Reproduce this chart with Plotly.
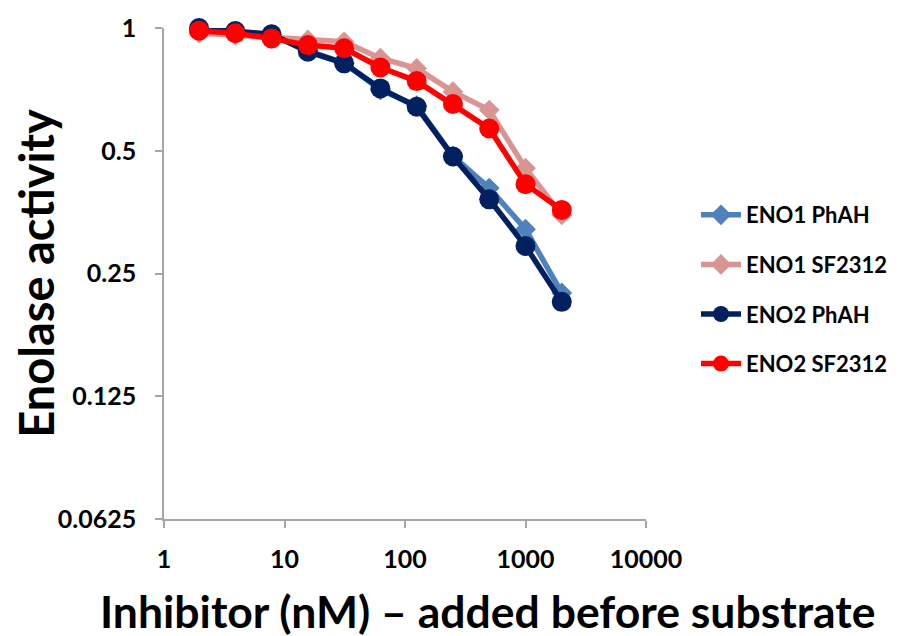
import plotly.graph_objects as go

conc = [1.953125, 3.90625, 7.8125, 15.625, 31.25, 62.5, 125, 250, 500, 1000, 2000]
eno1_phah = [0.99, 0.975, 0.962, 0.88, 0.82, 0.705, 0.645, 0.485, 0.405, 0.321, 0.224]
eno1_sf2312 = [0.972, 0.961, 0.943, 0.935, 0.925, 0.843, 0.796, 0.698, 0.629, 0.453, 0.348]
eno2_phah = [1.0, 0.983, 0.965, 0.875, 0.819, 0.711, 0.641, 0.484, 0.38, 0.292, 0.213]
eno2_sf2312 = [0.985, 0.971, 0.943, 0.908, 0.892, 0.80, 0.741, 0.651, 0.567, 0.414, 0.358]

series = [
    ("ENO1 PhAH", eno1_phah, "#4F81BD", "diamond", 16),
    ("ENO1 SF2312", eno1_sf2312, "#D99594", "diamond", 16),
    ("ENO2 PhAH", eno2_phah, "#002060", "circle", 20),
    ("ENO2 SF2312", eno2_sf2312, "#FF0000", "circle", 20),
]

y_ticks = [1, 0.5, 0.25, 0.125, 0.0625]
y_tick_labels = ["1", "0.5", "0.25", "0.125", "0.0625"]
x_ticks = [1, 10, 100, 1000, 10000]
x_tick_labels = ["1", "10", "100", "1000", "10000"]

FONT = "Lato"
L, T, PW, PH = 156, 20, 482, 491

fig = go.Figure()
for i, (name, vals, color, sym, size) in enumerate(series):
    fig.add_trace(go.Scatter(
        x=conc, y=vals, name=name, mode="lines+markers",
        line=dict(color=color, width=5.5),
        marker=dict(color=color, symbol=sym, size=size),
        legendgroup=f"g{i}",
        cliponaxis=False,
    ))

fig.update_layout(
    width=900, height=636,
    margin=dict(l=L, r=900 - L - PW, t=T, b=636 - T - PH, autoexpand=False),
    paper_bgcolor="white", plot_bgcolor="white",
    font=dict(family=FONT, color="black"),
    showlegend=True,
    legend=dict(
        x=(688 - L) / PW, xref="paper", xanchor="left",
        y=1 - (186 - T) / PH, yanchor="top",
        traceorder="grouped", tracegroupgap=18,
        font=dict(family=FONT, size=22, color="black", weight="bold"),
        bgcolor="rgba(0,0,0,0)", itemwidth=40,
    ),
    annotations=[dict(
        text="Inhibitor (nM) – added before substrate",
        xref="paper", yref="paper",
        x=(480 - L) / PW, y=-(602 - T - PH) / PH,
        xanchor="center", yanchor="middle", showarrow=False,
        font=dict(family=FONT, size=44.5, color="black", weight="bold"),
    )],
)

fig.update_xaxes(
    type="log", range=[0, 4], automargin=False,
    tickvals=x_ticks, ticktext=x_tick_labels,
    ticks="outside", ticklen=7, tickcolor="#A6A6A6", tickwidth=1.5,
    showline=True, linecolor="#A6A6A6", linewidth=1.5,
    showgrid=False, zeroline=False, ticklabelstandoff=10,
    tickfont=dict(family=FONT, size=25, color="black", weight="bold"),
)
fig.update_yaxes(
    type="log", range=[-1.2041199827, 0], automargin=False,
    tickvals=y_ticks, ticktext=y_tick_labels,
    ticks="outside", ticklen=7, tickcolor="#A6A6A6", tickwidth=1.5,
    showline=True, linecolor="#A6A6A6", linewidth=1.5,
    showgrid=False, zeroline=False, ticklabelstandoff=14,
    tickfont=dict(family=FONT, size=25, color="black", weight="bold"),
    title=dict(text="Enolase activity",
               font=dict(family=FONT, size=47, color="black", weight="bold"),
               standoff=8),
)

fig.write_html("out.html")
